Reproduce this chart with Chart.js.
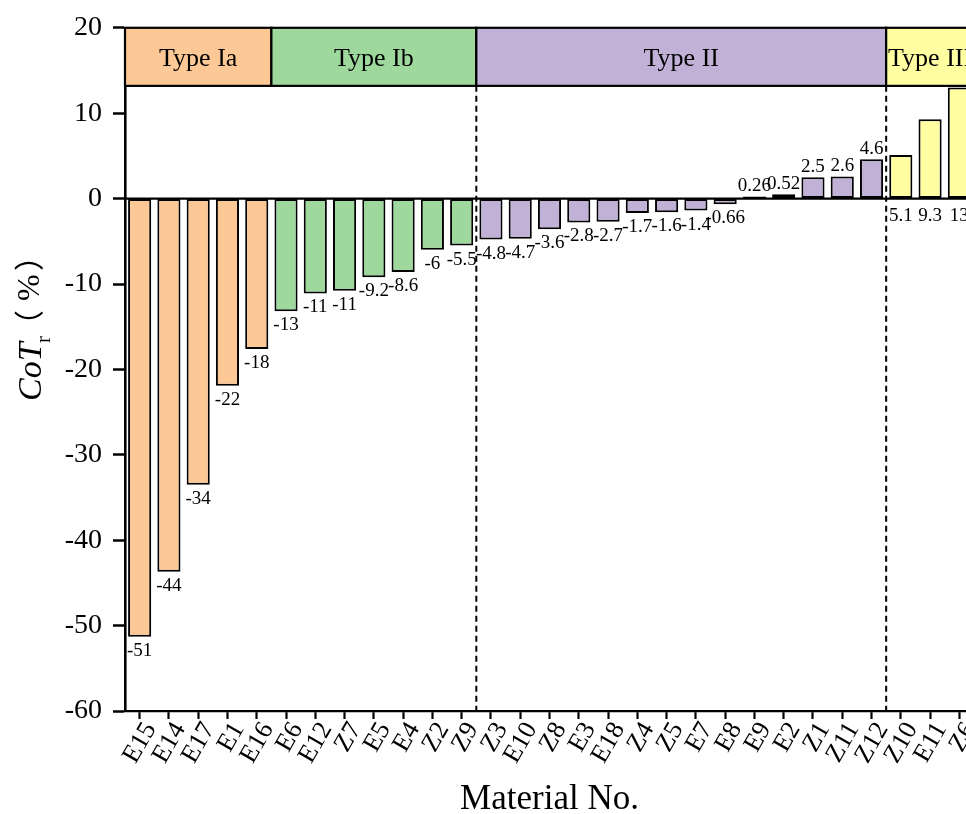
<!DOCTYPE html>
<html>
<head>
<meta charset="utf-8">
<script src="https://cdn.jsdelivr.net/npm/chart.js@4.4.0/dist/chart.umd.min.js"></script>
<style>
html, body { margin: 0; padding: 0; background: #fff; overflow: hidden; }
#wrap { width: 990px; height: 814px; }
</style>
</head>
<body>
<div id="wrap"><canvas id="chart" width="990" height="814"></canvas></div>
<script>
// Material numbers, in plotted order
const materials = [
    'E15', 'E14', 'E17', 'E1', 'E16',
    'E6', 'E12', 'Z7', 'E5', 'E4', 'Z2', 'Z9',
    'Z3', 'E10', 'Z8', 'E3', 'E18', 'Z4', 'Z5', 'E7', 'E8', 'E9', 'E2', 'Z1', 'Z11', 'Z12',
    'Z10', 'E11', 'Z6'
];
// CoTr (%)
const cotValues = [
    -51.3, -43.7, -33.5, -21.9, -17.6,
    -13.2, -11.1, -10.8, -9.2, -8.6, -6.0, -5.5,
    -4.8, -4.7, -3.6, -2.8, -2.7, -1.7, -1.6, -1.4, -0.66, 0.26, 0.52, 2.5, 2.6, 4.6,
    5.1, 9.3, 13.0
];
// printed value labels
const valueLabels = [
    '-51', '-44', '-34', '-22', '-18',
    '-13', '-11', '-11', '-9.2', '-8.6', '-6', '-5.5',
    '-4.8', '-4.7', '-3.6', '-2.8', '-2.7', '-1.7', '-1.6', '-1.4', '-0.66', '0.26', '0.52', '2.5', '2.6', '4.6',
    '5.1', '9.3', '13'
];
const typeNames = ['Type Ia', 'Type Ib', 'Type II', 'Type III'];
const typeCounts = [5, 7, 14, 3];
const typeColors = ['#fcc896', '#9ed89d', '#c1b1d6', '#ffffa2'];
const yTicks = [-60, -50, -40, -30, -20, -10, 0, 10, 20];
const bandBottom = 13.2;

const SERIF = '"Liberation Serif", "Times New Roman", serif';
const CJK = '"Noto Sans CJK SC"';

// group index of every bar
const groupOf = [];
typeCounts.forEach((n, g) => { for (let i = 0; i < n; i++) groupOf.push(g); });

// draw text so that its ink starts at lx, vertically centred on cy (rotated frame)
function inkText(ctx, font, txt, lx, cy, baseline) {
    ctx.font = font;
    const m = ctx.measureText(txt);
    const by = baseline !== undefined ? baseline : cy + (m.actualBoundingBoxAscent - m.actualBoundingBoxDescent) / 2;
    ctx.fillText(txt, lx + m.actualBoundingBoxLeft, by);
}

const typeBands = {
    id: 'typeBands',
    beforeDatasetsDraw(chart) {
        const { ctx, chartArea: a, scales: { y } } = chart;
        ctx.save();
        ctx.strokeStyle = '#000';
        ctx.lineWidth = 2.2;
        ctx.beginPath();
        ctx.moveTo(a.left, y.getPixelForValue(0));
        ctx.lineTo(a.right, y.getPixelForValue(0));
        ctx.stroke();
        ctx.restore();
    },
    afterDatasetsDraw(chart) {
        const { ctx, chartArea: a, scales: { x, y } } = chart;
        const step = x.getPixelForValue(1) - x.getPixelForValue(0);
        const yTop = y.getPixelForValue(20);
        const yBot = y.getPixelForValue(bandBottom);
        ctx.save();

        // dashed separators between groups (not between Ia and Ib)
        ctx.strokeStyle = '#000';
        ctx.lineWidth = 2;
        ctx.setLineDash([6, 4]);
        let idx = 0;
        typeCounts.forEach((n, g) => {
            if (g >= 2) {
                const xe = x.getPixelForValue(idx) - step / 2;
                ctx.beginPath();
                ctx.moveTo(xe, yBot);
                ctx.lineTo(xe, y.getPixelForValue(-60));
                ctx.stroke();
            }
            idx += n;
        });
        ctx.setLineDash([]);

        // type header boxes
        idx = 0;
        ctx.lineWidth = 2.2;
        ctx.font = '26px ' + SERIF;
        ctx.textAlign = 'center';
        ctx.textBaseline = 'middle';
        typeCounts.forEach((n, g) => {
            const x0 = x.getPixelForValue(idx) - step / 2;
            const x1 = x.getPixelForValue(idx + n - 1) + step / 2;
            ctx.fillStyle = typeColors[g];
            ctx.fillRect(x0, yTop, x1 - x0, yBot - yTop);
            ctx.strokeRect(x0, yTop, x1 - x0, yBot - yTop);
            ctx.fillStyle = '#000';
            ctx.fillText(typeNames[g], (x0 + x1) / 2, (yTop + yBot) / 2 + 2);
            idx += n;
        });

        // value labels
        ctx.font = '19px ' + SERIF;
        cotValues.forEach((v, i) => {
            const cx = x.getPixelForValue(i);
            let cy;
            if (groupOf[i] === 3) cy = y.getPixelForValue(0) + 17;
            else if (v < 0) cy = y.getPixelForValue(v) + 14;
            else cy = y.getPixelForValue(v) - 10;
            ctx.fillText(valueLabels[i], cx, cy);
        });

        // x title
        ctx.font = '35px ' + SERIF;
        ctx.textBaseline = 'alphabetic';
        ctx.fillText('Material No.', (a.left + a.right) / 2, 809);

        // y title: CoT_r（%）, rotated; local x = 328 - screen y, local y = screen x
        ctx.translate(0, 328);
        ctx.rotate(-Math.PI / 2);
        ctx.textAlign = 'left';
        inkText(ctx, 'italic 34px ' + SERIF, 'CoT', -72, 0, 41);
        inkText(ctx, '21px ' + SERIF, 'r', -15, 0, 50);
        inkText(ctx, '30px ' + CJK, '（', 8, 28.5);
        inkText(ctx, '32px ' + SERIF, '%', 28, 28.5);
        inkText(ctx, '30px ' + CJK, '）', 58, 28.5);
        ctx.restore();
    }
};

new Chart(document.getElementById('chart'), {
    type: 'bar',
    data: {
        labels: materials,
        datasets: [{
            data: cotValues,
            backgroundColor: groupOf.map(g => typeColors[g]),
            borderColor: '#000',
            borderWidth: 2,
            borderSkipped: false,
            barPercentage: 0.79,
            categoryPercentage: 1
        }]
    },
    options: {
        responsive: false,
        animation: false,
        layout: { padding: { top: 27, right: 16, left: 0, bottom: 0 } },
        plugins: { legend: { display: false }, tooltip: { enabled: false } },
        scales: {
            x: {
                offset: true,
                grid: { offset: false, drawOnChartArea: false, tickLength: 8, tickColor: '#000', tickWidth: 2.2 },
                border: { color: '#000', width: 2.2 },
                ticks: {
                    autoSkip: false, minRotation: 60, maxRotation: 60, padding: -2, labelOffset: 11,
                    color: '#000', font: { family: SERIF, size: 26 }
                },
                afterFit: s => { s.height = 103; }
            },
            y: {
                min: -60,
                max: 20,
                afterBuildTicks: s => { s.ticks = yTicks.map(v => ({ value: v })); },
                grid: { drawOnChartArea: false, tickLength: 12, tickColor: '#000', tickWidth: 2.5 },
                border: { color: '#000', width: 2.6 },
                ticks: { color: '#000', padding: 11, font: { family: SERIF, size: 28 } },
                afterFit: s => { s.width = 125; }
            }
        }
    },
    plugins: [typeBands]
});
</script>
</body>
</html>
